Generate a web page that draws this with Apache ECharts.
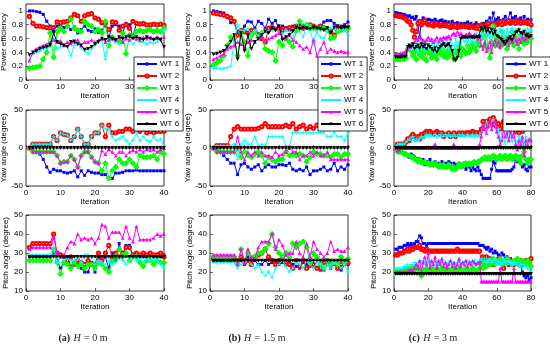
<!DOCTYPE html>
<html><head><meta charset="utf-8">
<script src="https://cdn.jsdelivr.net/npm/echarts@6/dist/echarts.min.js"></script>
<style>html,body{margin:0;padding:0;background:#fff}#c{width:550px;height:349px}</style>
</head><body><div id="c"></div>
<script>
// ---------- tick labels / categories ----------
const seriesNames = ['WT 1','WT 2','WT 3','WT 4','WT 5','WT 6'];
const captions = [['(a)','H','= 0 m'],['(b)','H','= 1.5 m'],['(c)','H','= 3 m']];
const yNames = ['Power efficiency','Yaw angle (degree)','Pitch angle (degree)'];
const xName = 'Iteration';

// ---------- (a) H = 0 m : power efficiency ----------
const powA1=[1.0,1.0,0.99,0.98,0.95,0.85,0.78,0.73,0.78,0.80,0.76,0.78,0.73,0.77,0.68,0.73,0.78,0.72,0.70,0.74,0.69,0.72,0.79,0.61,0.78,0.80,0.78,0.68,0.82,0.80,0.62,0.83,0.82,0.80,0.79,0.78,0.80,0.79,0.80,0.80];
const powA2=[0.92,0.82,0.78,0.78,0.77,0.76,0.75,0.76,0.84,0.83,0.84,0.85,0.90,0.95,0.93,0.85,0.93,0.95,0.96,0.90,0.88,0.83,0.82,0.73,0.84,0.83,0.72,0.78,0.80,0.75,0.85,0.82,0.81,0.82,0.80,0.80,0.81,0.80,0.81,0.79];
const powA3=[0.17,0.18,0.19,0.20,0.30,0.40,0.68,0.33,0.70,0.75,0.70,0.78,0.88,0.75,0.72,0.70,0.85,0.80,0.78,0.70,0.73,0.68,0.85,0.50,0.62,0.58,0.55,0.68,0.38,0.65,0.62,0.70,0.72,0.70,0.72,0.73,0.70,0.72,0.70,0.75];
const powA4=[0.30,0.38,0.40,0.42,0.45,0.46,0.48,0.60,0.45,0.48,0.50,0.48,0.35,0.50,0.52,0.46,0.42,0.38,0.45,0.50,0.55,0.58,0.30,0.60,0.58,0.55,0.52,0.55,0.60,0.58,0.52,0.58,0.55,0.55,0.52,0.55,0.53,0.55,0.58,0.72];
const powA5=[0.28,0.40,0.45,0.48,0.50,0.52,0.55,0.58,0.55,0.57,0.50,0.55,0.53,0.55,0.58,0.50,0.55,0.55,0.58,0.55,0.58,0.60,0.55,0.58,0.60,0.58,0.62,0.55,0.60,0.58,0.62,0.60,0.58,0.62,0.60,0.62,0.60,0.62,0.60,0.62];
const powA6=[0.36,0.40,0.42,0.45,0.47,0.48,0.50,0.68,0.55,0.52,0.50,0.48,0.55,0.56,0.52,0.50,0.44,0.45,0.48,0.52,0.55,0.60,0.58,0.62,0.60,0.58,0.62,0.60,0.62,0.63,0.60,0.62,0.60,0.58,0.62,0.60,0.58,0.60,0.58,0.48];
// ---------- (b) H = 1.5 m : power efficiency ----------
const powB1=[1.0,0.99,0.98,0.97,0.92,0.83,0.84,0.70,0.68,0.78,0.85,0.84,0.75,0.85,0.82,0.75,0.88,0.82,0.86,0.74,0.78,0.76,0.72,0.78,0.74,0.80,0.78,0.76,0.75,0.76,0.74,0.76,0.84,0.86,0.86,0.82,0.76,0.78,0.80,0.84];
const powB2=[0.97,0.96,0.95,0.94,0.92,0.90,0.85,0.65,0.72,0.70,0.68,0.72,0.70,0.66,0.60,0.55,0.75,0.76,0.74,0.75,0.72,0.74,0.76,0.75,0.78,0.76,0.75,0.76,0.80,0.78,0.76,0.78,0.76,0.74,0.70,0.65,0.72,0.74,0.75,0.76];
const powB3=[0.22,0.25,0.28,0.35,0.50,0.62,0.60,0.35,0.70,0.55,0.35,0.65,0.70,0.62,0.68,0.45,0.42,0.40,0.28,0.55,0.50,0.60,0.55,0.48,0.72,0.85,0.78,0.80,0.78,0.75,0.76,0.74,0.75,0.72,0.60,0.62,0.70,0.72,0.74,0.75];
const powB4=[0.17,0.17,0.16,0.17,0.18,0.20,0.55,0.80,0.70,0.72,0.75,0.65,0.72,0.62,0.68,0.72,0.70,0.72,0.74,0.70,0.66,0.72,0.70,0.60,0.78,0.70,0.62,0.80,0.72,0.55,0.70,0.62,0.60,0.72,0.75,0.74,0.72,0.74,0.72,0.65];
const powB5=[0.30,0.32,0.35,0.38,0.45,0.48,0.50,0.55,0.52,0.48,0.55,0.58,0.55,0.60,0.62,0.58,0.60,0.62,0.65,0.68,0.62,0.60,0.65,0.58,0.55,0.50,0.45,0.48,0.40,0.58,0.35,0.45,0.55,0.40,0.45,0.42,0.40,0.42,0.40,0.40];
const powB6=[0.37,0.38,0.40,0.42,0.48,0.55,0.65,0.30,0.68,0.42,0.65,0.45,0.55,0.60,0.65,0.70,0.68,0.75,0.72,0.78,0.58,0.62,0.65,0.70,0.76,0.74,0.76,0.75,0.74,0.76,0.75,0.74,0.72,0.75,0.68,0.76,0.78,0.75,0.76,0.76];
// ---------- (c) H = 3 m : power efficiency ----------
const powC1=[0.97,0.97,0.96,0.96,0.95,0.95,0.93,0.92,0.93,0.90,0.91,0.88,0.92,0.80,0.62,0.86,0.90,0.88,0.85,0.88,0.87,0.86,0.84,0.88,0.85,0.83,0.86,0.87,0.84,0.85,0.82,0.84,0.80,0.85,0.82,0.80,0.83,0.78,0.82,0.80,0.82,0.81,0.84,0.80,0.82,0.78,0.80,0.83,0.79,0.80,0.72,0.82,0.80,0.85,0.84,0.90,0.82,0.97,0.85,0.88,0.90,0.86,0.84,0.88,0.92,0.86,0.84,0.97,0.90,0.88,0.92,0.85,0.88,0.90,0.86,0.92,0.84,0.88,0.82,0.87];
const powC2=[0.93,0.93,0.92,0.92,0.91,0.90,0.88,0.85,0.84,0.80,0.72,0.62,0.70,0.82,0.85,0.80,0.84,0.86,0.82,0.80,0.80,0.82,0.78,0.80,0.82,0.80,0.78,0.80,0.79,0.80,0.78,0.80,0.76,0.78,0.77,0.79,0.76,0.78,0.77,0.78,0.78,0.77,0.78,0.76,0.78,0.77,0.76,0.75,0.78,0.74,0.80,0.78,0.76,0.80,0.82,0.78,0.80,0.75,0.82,0.80,0.82,0.84,0.80,0.85,0.82,0.84,0.86,0.82,0.84,0.85,0.82,0.86,0.84,0.82,0.85,0.83,0.84,0.82,0.84,0.80];
const powC3=[0.30,0.30,0.30,0.30,0.31,0.30,0.32,0.45,0.48,0.42,0.35,0.40,0.30,0.42,0.36,0.45,0.32,0.40,0.28,0.45,0.38,0.32,0.42,0.35,0.30,0.42,0.38,0.45,0.34,0.40,0.32,0.44,0.36,0.40,0.30,0.42,0.38,0.48,0.35,0.45,0.42,0.38,0.50,0.40,0.45,0.52,0.48,0.42,0.55,0.50,0.60,0.75,0.50,0.65,0.45,0.32,0.55,0.78,0.50,0.62,0.55,0.48,0.70,0.52,0.60,0.45,0.62,0.55,0.70,0.50,0.62,0.55,0.45,0.65,0.58,0.52,0.62,0.55,0.65,0.60];
const powC4=[0.35,0.35,0.35,0.35,0.36,0.36,0.40,0.42,0.45,0.44,0.48,0.45,0.55,0.40,0.50,0.45,0.55,0.42,0.58,0.50,0.45,0.55,0.40,0.58,0.48,0.52,0.60,0.45,0.55,0.50,0.62,0.45,0.58,0.50,0.42,0.60,0.48,0.55,0.50,0.62,0.55,0.60,0.50,0.65,0.55,0.60,0.52,0.68,0.58,0.62,0.70,0.60,0.75,0.65,0.72,0.55,0.78,0.68,0.62,0.72,0.65,0.75,0.68,0.72,0.60,0.74,0.68,0.70,0.75,0.66,0.72,0.68,0.74,0.65,0.70,0.72,0.68,0.75,0.70,0.72];
const powC5=[0.38,0.38,0.38,0.39,0.39,0.40,0.42,0.45,0.48,0.50,0.52,0.55,0.60,0.58,0.62,0.60,0.58,0.55,0.58,0.62,0.58,0.60,0.55,0.58,0.62,0.56,0.60,0.58,0.62,0.60,0.62,0.64,0.60,0.66,0.68,0.65,0.70,0.66,0.68,0.65,0.62,0.66,0.64,0.68,0.65,0.62,0.66,0.64,0.60,0.65,0.50,0.45,0.55,0.42,0.48,0.55,0.40,0.52,0.58,0.50,0.55,0.48,0.58,0.52,0.56,0.60,0.50,0.58,0.55,0.62,0.58,0.52,0.60,0.55,0.62,0.58,0.60,0.62,0.64,0.65];
const powC6=[0.33,0.33,0.33,0.33,0.34,0.33,0.34,0.48,0.50,0.48,0.52,0.45,0.48,0.50,0.46,0.52,0.48,0.50,0.45,0.50,0.48,0.45,0.42,0.46,0.40,0.45,0.48,0.50,0.52,0.48,0.50,0.52,0.48,0.42,0.30,0.28,0.32,0.42,0.60,0.62,0.62,0.62,0.61,0.62,0.62,0.62,0.61,0.62,0.62,0.62,0.75,0.72,0.76,0.70,0.74,0.68,0.72,0.66,0.70,0.64,0.62,0.60,0.58,0.55,0.52,0.56,0.60,0.62,0.58,0.64,0.68,0.70,0.72,0.68,0.66,0.70,0.64,0.66,0.62,0.64];

// ---------- (a) yaw angle ----------
const yawA1=[0,-3,-5,-8,-15,-25,-32,-28,-30,-30,-32,-33,-32,-30,-38,-30,-36,-30,-32,-33,-33,-35,-35,-40,-40,-33,-33,-32,-30,-30,-30,-29,-30,-30,-30,-30,-30,-30,-30,-30];
const yawA2=[0,5,5,5,5,5,5,15,10,20,18,17,10,15,25,15,5,5,15,20,20,30,15,30,20,20,22,22,25,25,22,30,22,25,20,22,20,22,22,22];
const yawA3=[0,-5,-5,-5,-5,-5,-5,-5,-10,-20,-18,-18,-10,-15,-25,-10,-5,-5,-12,-18,-20,-30,-20,-40,-30,-25,-15,-20,-20,-15,-20,-25,-10,-12,-12,-12,-10,-15,-5,-8];
const yawA4=[0,5,5,5,5,5,5,15,10,20,18,17,10,15,25,15,5,5,15,20,20,30,25,25,15,10,12,15,10,5,10,20,10,15,10,8,15,10,12,2];
const yawA5=[0,-5,-5,-5,-5,-5,-5,-5,-10,-20,-18,-18,-10,-15,-25,-10,-5,-5,-12,-18,-20,-3,-8,-2,-5,-10,-5,-5,-10,-5,-3,-5,-2,-5,-2,-3,-2,-5,-2,0];
const yawA6=[0,0,0,0,0,0,0,0,0,0,0,0,0,0,0,0,0,0,0,0,0,0,0,0,0,0,0,0,0,0,0,0,0,0,0,0,0,0,0,0];
// ---------- (b) yaw angle ----------
const yawB1=[0,-3,-5,-10,-15,-20,-20,-35,-22,-20,-25,-28,-25,-22,-30,-25,-22,-25,-25,-22,-22,-23,-20,-28,-30,-28,-30,-25,-35,-30,-30,-28,-25,-30,-28,-20,-30,-25,-28,-22];
const yawB2=[0,3,3,3,3,15,25,28,25,25,25,25,25,26,28,32,28,28,28,28,28,30,28,32,25,28,30,25,28,26,30,28,30,28,32,35,35,30,28,28];
const yawB3=[0,-5,-5,-5,-5,-5,-5,0,-12,-5,-10,-12,-8,-5,-10,-20,-12,-15,-18,-15,-15,-5,-10,-8,-10,-8,-10,-18,-12,-5,-8,-8,-10,-10,-12,-8,-8,-12,-8,-8];
const yawB4=[0,3,3,3,3,3,5,-15,5,10,5,5,15,3,5,3,15,15,15,15,15,3,3,20,20,20,20,20,20,20,20,20,20,15,15,20,15,15,10,20];
const yawB5=[0,-5,-5,-5,-5,-5,-5,15,-5,-15,-5,-10,-5,-10,-5,-10,-10,-12,-5,-10,-8,-5,0,-5,-5,-15,-10,-10,-5,-10,-5,-10,-10,-5,-15,-15,-15,-15,-15,-15];
const yawB6=[0,0,0,0,0,0,0,0,0,0,0,0,0,0,0,0,0,0,0,0,0,0,0,0,0,0,0,0,0,0,0,0,0,0,0,0,0,0,0,0];
// ---------- (c) yaw angle ----------
const yawC1=[0,-3,-5,-5,-6,-8,-8,-10,-12,-8,-10,-12,-15,-14,-18,-20,-15,-22,-18,-20,-15,-22,-20,-18,-22,-20,-25,-18,-22,-20,-22,-18,-20,-25,-20,-22,-25,-20,-22,-25,-20,-28,-22,-25,-30,-25,-28,-30,-25,-30,-35,-40,-40,-40,-40,-40,-28,-18,-20,-30,-30,-30,-30,-30,-30,-30,-30,-30,-28,-25,-15,-18,-15,-20,-25,-22,-28,-30,-25,-25];
const yawC2=[0,5,5,5,5,5,8,12,10,15,18,15,12,15,12,18,15,20,22,20,22,20,18,20,22,20,18,20,15,18,18,20,15,18,20,15,18,20,18,20,18,20,20,20,20,22,20,20,20,20,25,35,28,35,30,38,32,40,35,28,32,25,30,35,28,30,25,30,28,25,22,25,20,28,22,25,28,26,28,30];
const yawC3=[0,-5,-5,-5,-6,-8,-8,-10,-10,-12,-12,-15,-15,-18,-15,-18,-20,-18,-20,-20,-22,-20,-22,-20,-22,-25,-22,-25,-22,-25,-25,-22,-25,-28,-25,-28,-25,-22,-25,-22,-22,-20,-22,-20,-22,-20,-18,-20,-18,-18,-15,-15,-12,-15,-12,-15,-12,-10,-12,-15,-12,-10,-15,-12,-10,-15,-12,-10,-15,-12,-10,-15,-12,-20,-10,-5,-15,-20,-15,-15];
const yawC4=[0,5,5,5,5,5,8,10,12,10,15,10,12,10,12,15,12,15,18,15,18,15,15,18,15,15,18,15,15,18,15,18,15,15,18,15,15,18,15,18,15,15,18,15,15,18,15,18,15,15,20,30,25,35,28,30,35,38,32,20,25,10,20,15,5,20,10,18,8,15,10,5,15,10,12,5,15,10,8,12];
const yawC5=[0,-3,-3,0,0,2,0,0,0,0,0,0,0,0,0,0,0,0,0,0,0,0,0,5,0,0,0,0,0,0,0,0,0,0,5,0,0,0,0,0,0,0,0,0,0,0,0,0,0,5,15,30,25,20,28,35,25,30,35,22,15,5,10,25,15,20,10,22,15,20,5,-2,10,5,15,-10,10,5,12,10];
const yawC6=[0,0,0,0,0,0,0,0,0,0,0,0,0,0,0,0,0,0,0,0,0,0,0,0,0,0,0,0,0,0,0,0,0,0,0,0,0,0,0,0,0,0,0,0,0,0,0,0,0,0,0,0,0,0,0,0,0,0,0,0,0,0,0,0,0,0,0,0,0,0,0,0,0,0,0,0,0,0,0,0];

// ---------- (a) pitch angle ----------
const pitA1=[28,28,28,28,28,28,28,30,26,22,25,28,23,25,24,22,20,20,25,20,28,25,28,22,30,26,35,28,34,34,28,30,28,28,28,29,28,28,28,29];
const pitA2=[33,35,35,35,35,35,35,40,30,29,28,26,28,24,26,25,24,26,24,24,30,26,30,34,28,30,28,30,33,33,29,30,29,30,29,30,29,29,30,28];
const pitA3=[26,26,26,26,26,26,26,32,25,19,25,24,22,25,23,24,22,24,24,22,25,24,22,20,26,28,32,28,30,26,28,28,25,23,26,26,24,26,25,25];
const pitA4=[29,29,29,29,29,29,29,33,25,28,26,27,26,26,27,25,29,29,28,24,26,25,24,26,24,25,28,26,24,26,28,26,28,25,27,26,27,26,24,22];
const pitA5=[32,33,33,33,33,33,33,38,30,28,29,33,36,35,40,37,38,37,38,35,38,45,44,38,41,41,41,38,44,38,36,44,37,37,37,37,38,40,39,40];
const pitA6=[28,28,28,28,28,28,28,28,28,28,28,28,28,28,28,28,28,28,28,28,28,28,28,28,28,28,28,28,28,28,28,28,28,28,28,28,28,28,28,28];
// ---------- (b) pitch angle ----------
const pitB1=[26,26,26,26,26,26,26,25,26,24,28,25,26,24,24,26,24,25,26,24,25,24,26,24,23,22,25,24,23,23,22,21,21,24,22,24,22,21,24,24];
const pitB2=[27,27,27,27,27,27,27,26,28,25,26,24,28,29,30,32,28,26,24,26,28,25,24,22,26,23,26,22,24,24,22,22,25,26,24,25,22,24,25,25];
const pitB3=[28,28,28,28,28,28,28,24,32,26,30,27,28,30,30,32,35,40,33,30,28,30,28,35,33,35,36,33,25,30,28,24,22,26,24,25,24,28,25,27];
const pitB4=[25,25,25,25,25,25,25,22,24,25,26,24,22,24,20,18,20,17,22,24,26,23,20,22,25,24,22,26,24,22,25,24,22,24,22,25,24,22,24,20];
const pitB5=[29,29,29,29,29,29,29,24,32,25,32,28,27,33,36,36,36,40,32,37,34,29,30,30,36,30,28,35,28,36,32,30,28,30,36,31,32,31,31,33];
const pitB6=[26,26,26,26,26,26,26,26,26,26,26,26,26,26,26,26,26,26,26,26,26,26,26,26,26,26,26,26,26,26,26,26,26,26,26,26,26,26,26,26];
// ---------- (c) pitch angle ----------
const pitC1=[32,32,33,33,33,34,34,35,34,35,34,35,36,36,39,38,35,35,34,35,35,35,35,35,35,35,35,35,35,35,35,35,35,35,35,35,35,35,35,35,35,35,35,35,35,35,35,35,35,34,34,34,33,32,33,31,32,30,31,30,29,28,30,29,27,28,26,27,25,26,25,24,25,23,20,18,17,18,16,17];
const pitC2=[29,29,30,30,30,31,31,32,31,32,32,33,33,33,34,32,32,31,32,31,31,31,31,31,31,31,31,31,31,31,31,31,31,31,31,31,32,31,31,31,31,31,31,31,31,31,31,31,31,31,25,28,27,28,26,27,25,24,26,25,27,26,25,22,26,25,24,26,25,24,26,25,24,26,25,24,26,25,26,27];
const pitC3=[20,20,20,20,21,20,21,22,21,22,22,21,23,22,20,18,21,20,22,21,20,22,21,20,22,21,20,22,21,20,22,21,20,21,22,20,21,22,21,20,21,22,21,20,21,22,21,20,21,22,24,22,25,23,26,24,25,27,24,26,25,27,24,26,25,27,26,25,24,26,25,27,26,24,26,25,24,26,25,23];
const pitC4=[22,22,22,22,22,23,23,24,23,24,24,25,24,25,26,25,26,25,24,25,26,25,24,26,25,24,26,25,24,25,24,25,26,24,25,24,25,26,24,25,25,24,26,25,24,25,26,24,25,26,27,26,27,25,26,27,25,26,27,24,26,25,24,27,25,24,26,25,24,25,24,25,23,24,22,24,23,22,21,20];
const pitC5=[20,20,20,20,20,20,20,20,21,21,21,22,24,22,26,20,25,28,24,30,22,26,24,28,22,26,24,27,23,25,22,24,26,23,25,22,24,27,23,25,24,26,23,25,24,26,25,24,25,25,15,15,15,15,15,15,15,15,15,15,15,22,15,15,15,15,15,15,15,22,15,15,15,15,15,15,15,15,15,15];
const pitC6=[19,19,19,19,19,19,19,19,19,19,19,19,19,19,19,19,19,19,19,19,19,19,19,19,19,19,19,19,19,19,19,19,19,19,19,19,19,19,19,19,19,19,19,19,19,19,19,19,19,19,19,19,19,19,19,19,19,19,19,19,19,19,19,19,19,19,19,19,19,19,19,19,19,19,19,19,19,19,19,19];

// ---------- assembly ----------
const panels = [
  [[powA1,powA2,powA3,powA4,powA5,powA6],[powB1,powB2,powB3,powB4,powB5,powB6],[powC1,powC2,powC3,powC4,powC5,powC6]],
  [[yawA1,yawA2,yawA3,yawA4,yawA5,yawA6],[yawB1,yawB2,yawB3,yawB4,yawB5,yawB6],[yawC1,yawC2,yawC3,yawC4,yawC5,yawC6]],
  [[pitA1,pitA2,pitA3,pitA4,pitA5,pitA6],[pitB1,pitB2,pitB3,pitB4,pitB5,pitB6],[pitC1,pitC2,pitC3,pitC4,pitC5,pitC6]]
];
const xMax = [40,40,80], xStep = [10,10,20];
const yRange = [[0,1.1,0.2],[-50,50,50],[10,50,10]];

const colLeft = [26,210,394], colW = [138,138,137];
const rowTop = [4,110,215], rowH = 76;
const colors = ['#0000ff','#ff0000','#00ff00','#00ffff','#ff00ff','#000000'];
const plus = 'path://M4,0L6,0L6,4L10,4L10,6L6,6L6,10L4,10L4,6L0,6L0,4L4,4Z';
const downTri = 'path://M0,0L10,0L5,9Z';
const symbols = ['rect','emptyCircle','emptyDiamond',plus,'triangle',downTri];
const symSize = [3,3.2,3.6,4,3.8,3.8];
const FONT = 'Liberation Sans';

const grid=[], xAxis=[], yAxis=[], series=[];
for (let r=0;r<3;r++) for (let c=0;c<3;c++) {
  const g = r*3+c;
  grid.push({left:colLeft[c], top:rowTop[r], width:colW[c], height:rowH, show:true,
    borderColor:'#000', borderWidth:0.8, backgroundColor:'#fff', outerBoundsMode:'none', containLabel:false});
  xAxis.push({type:'value', gridIndex:g, min:0, max:xMax[c], interval:xStep[c],
    axisLine:{show:false}, splitLine:{show:false},
    axisTick:{inside:true, length:3, lineStyle:{color:'#000', width:0.6}},
    axisLabel:{fontSize:8, fontFamily:FONT, color:'#000', margin:3},
    name:xName, nameLocation:'middle', nameGap:12,
    nameTextStyle:{fontSize:8, fontFamily:FONT, color:'#000'}});
  yAxis.push({type:'value', gridIndex:g, min:yRange[r][0], max:yRange[r][1], interval:yRange[r][2],
    axisLine:{show:false}, splitLine:{show:false},
    axisTick:{inside:true, length:3, lineStyle:{color:'#000', width:0.6}},
    axisLabel:{fontSize:8, fontFamily:FONT, color:'#000', margin:3, showMaxLabel: r!==0},
    name:yNames[r], nameLocation:'middle', nameGap:13,
    nameTextStyle:{fontSize:8, fontFamily:FONT, color:'#000'}});
  panels[r][c].forEach((arr,k)=>{
    series.push({type:'line', name:seriesNames[k], xAxisIndex:g, yAxisIndex:g,
      data:arr.map((v,i)=>[i+1,v]),
      symbol:symbols[k], symbolSize:symSize[k], showSymbol:true,
      lineStyle:{color:colors[k], width:1},
      itemStyle:{color:colors[k], borderColor:colors[k], borderWidth:(k===1||k===2)?0.8:0},
      emphasis:{disabled:true}, animation:false, z:2+k*0.01});
  });
}

const legendLeft = [134,318,503];
const legend = legendLeft.map(l=>({
  data:seriesNames, orient:'vertical', left:l, top:57, itemGap:4,
  itemWidth:20, itemHeight:4, selectedMode:false,
  backgroundColor:'#fff', borderColor:'#000', borderWidth:0.8, padding:[3,4,3,2],
  textStyle:{fontSize:8, fontFamily:FONT, color:'#000', padding:[0,0,0,-2]}, z:20
}));

const capX = [83,257,433];
const graphic = captions.map((cp,i)=>({
  type:'text', x:capX[i], y:338, z:30,
  style:{text:'{b|'+cp[0]+'} {i|'+cp[1]+'} {r|'+cp[2]+'}', align:'center', verticalAlign:'middle',
    rich:{
      b:{fontFamily:'Liberation Serif', fontSize:10, fontWeight:'bold', fill:'#222'},
      i:{fontFamily:'Liberation Serif', fontSize:10, fontStyle:'italic', fill:'#222'},
      r:{fontFamily:'Liberation Serif', fontSize:10, fill:'#222'}
    }}
}));

const chart = echarts.init(document.getElementById('c'), null, {renderer:'canvas'});
chart.setOption({animation:false, backgroundColor:'#fff', grid, xAxis, yAxis, series, legend, graphic});
</script></body></html>
